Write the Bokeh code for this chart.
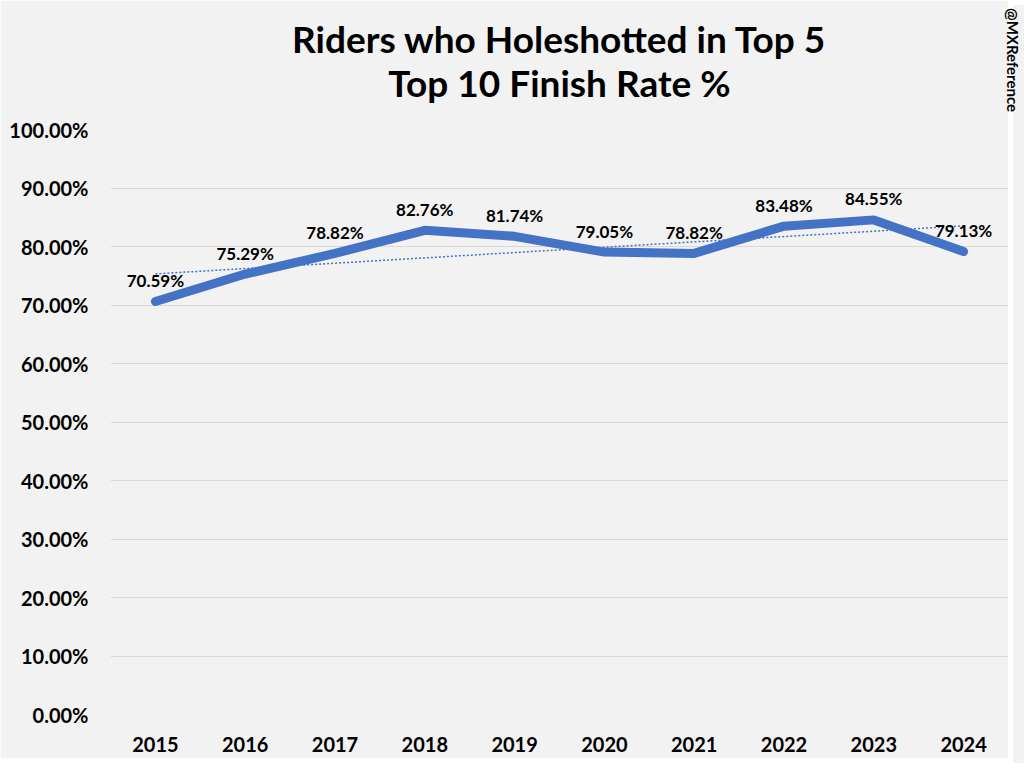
import numpy as np
from bokeh.plotting import figure
from bokeh.models import (ColumnDataSource, FactorRange, Range1d, NumeralTickFormatter, Title,
                          SingleIntervalTicker, Div)
from bokeh.layouts import row
from bokeh.embed import file_html
from bokeh.resources import INLINE
from bokeh.core.properties import value

years = ["2015", "2016", "2017", "2018", "2019", "2020", "2021", "2022", "2023", "2024"]
rates = [70.59, 75.29, 78.82, 82.76, 81.74, 79.05, 78.82, 83.48, 84.55, 79.13]
title_lines = ["Riders who Holeshotted in Top 5", "Top 10 Finish Rate %"]
watermark = "@MXReference"

FONT = "Lato"
BG = "#F2F2F2"
BLUE = "#4472C4"

idx = np.arange(len(rates))
slope, intercept = np.polyfit(idx, np.array(rates), 1)

src = ColumnDataSource(dict(
    x=years,
    y=[r / 100 for r in rates],
    t=[(intercept + slope * i) / 100 for i in idx],
    lab=[f"{r:.2f}%" for r in rates],
))

LEFT, RIGHT, TOP, BOTTOM = 110, 0, 129, 44
FW, FH = 898, 585
H = TOP + FH + BOTTOM

p = figure(x_range=FactorRange(*years), y_range=Range1d(0, 1.0),
           frame_width=FW, frame_height=FH,
           output_backend="svg", toolbar_location=None,
           min_border_left=LEFT, min_border_right=RIGHT,
           min_border_bottom=BOTTOM, min_border_top=TOP)

p.background_fill_color = BG
p.border_fill_color = BG
p.outline_line_color = None

# spacer between the frame and the titles
p.add_layout(Title(text=" ", text_font_size="1px", standoff=23), "above")
# titles: the one added last sits on top
p.add_layout(Title(text=title_lines[1], align="center", text_font=FONT, text_font_size="37px",
                   text_font_style="bold", text_color="black", standoff=-3), "above")
p.add_layout(Title(text=title_lines[0], align="center", text_font=FONT, text_font_size="37px",
                   text_font_style="bold", text_color="black", standoff=-3), "above")

p.line("x", "t", source=src, line_color=BLUE, line_width=1.5, line_dash="2 2")
p.line("x", "y", source=src, line_color=BLUE, line_width=9, line_cap="round", line_join="round")
p.text("x", "y", text="lab", source=src, text_align="center", text_baseline="middle",
       y_offset=-21, text_font=value(FONT), text_font_size="17px", text_font_style="bold",
       text_color="black")

p.yaxis.ticker = SingleIntervalTicker(interval=0.1)
p.yaxis.formatter = NumeralTickFormatter(format="0.00%")
for ax in (p.xaxis, p.yaxis):
    ax.axis_line_color = None
    ax.major_tick_line_color = None
    ax.minor_tick_line_color = None
    ax.major_label_text_font = FONT
    ax.major_label_text_font_size = "20px"
    ax.major_label_text_font_style = "bold"
    ax.major_label_text_color = "black"
p.yaxis.major_label_standoff = 16
p.xaxis.major_label_standoff = 16
p.xgrid.grid_line_color = None
p.ygrid.grid_line_color = "#D9D9D9"
p.ygrid.grid_line_width = 1
p.x_range.range_padding = 0

side = Div(text=watermark, width=16, height=H,
           styles={"background-color": BG, "writing-mode": "vertical-rl",
                   "font-family": FONT, "font-weight": "bold", "font-size": "15px",
                   "color": "black", "line-height": "16px", "padding-top": "3px",
                   "padding-right": "8px", "box-sizing": "border-box",
                   "overflow": "visible"})

open("out.html", "w").write(file_html(row(p, side), INLINE))
